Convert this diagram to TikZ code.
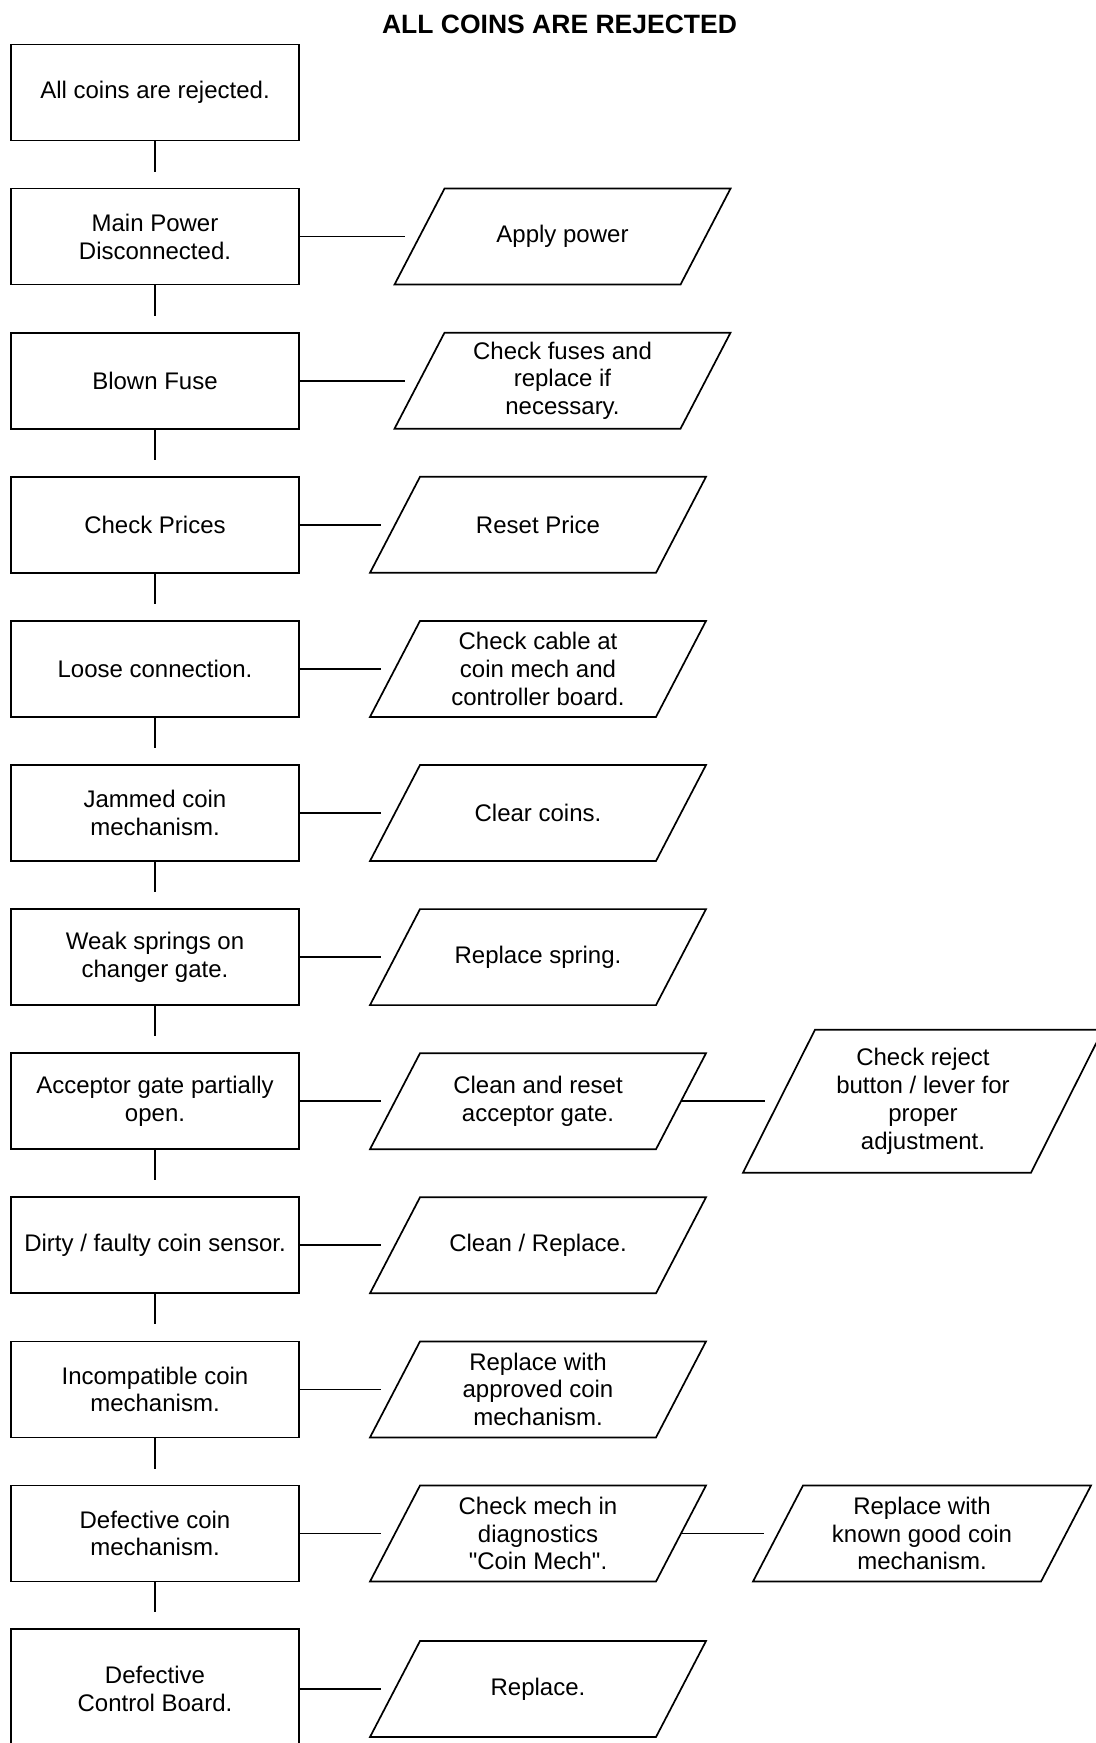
\documentclass[tikz,border=0pt]{standalone}
\usepackage{fontspec}
\setmainfont[Ligatures=TeXOff]{Liberation Sans}
\begin{document}
\begin{tikzpicture}[x=0.5pt,y=-0.5pt,line width=0.85pt,
  txt/.style={inner sep=0pt,outer sep=0pt,align=center,font=\fontsize{12}{13.9}\selectfont},
  box/.style={txt,draw,minimum width=144pt,minimum height=48pt},
  para/.style={txt,minimum width=143pt,minimum height=48pt},
  link/.style={shorten >=7.25pt},
  vlink/.style={shorten >=8.5pt}]
\useasboundingbox (0,0) rectangle (1096,1743);
\node[font=\bfseries\fontsize{13.25}{15}\selectfont,inner sep=0pt] (title) at (559.5,24) {ALL COINS ARE REJECTED};
% boxes
\node[box] (b1) at (155,92.5) {All coins are rejected.};
\node[box] (b2) at (155,236.6) {Main Power\\Disconnected.};
\node[box] (b3) at (155,380.7) {Blown Fuse};
\node[box] (b4) at (155,524.8) {Check Prices};
\node[box] (b5) at (155,668.9) {Loose connection.};
\node[box] (b6) at (155,813.0) {Jammed coin\\mechanism.};
\node[box] (b7) at (155,957.1) {Weak springs on\\changer gate.};
\node[box] (b8) at (155,1101.2) {Acceptor gate partially\\open.};
\node[box] (b9) at (155,1245.3) {Dirty / faulty coin sensor.};
\node[box] (b10) at (155,1389.4) {Incompatible coin\\mechanism.};
\node[box] (b11) at (155,1533.5) {Defective coin\\mechanism.};
\node[txt,minimum width=144pt,minimum height=60pt] (b12) at (155,1689) {Defective\\Control Board.};
\draw (b12.south west) -- (b12.north west) -- (b12.north east) -- (b12.south east);
% parallelograms
\node[para] (p2) at (562.5,236.6) {Apply power};
\node[para] (p3) at (562.5,380.7) {Check fuses and\\replace if\\necessary.};
\node[para] (p4) at (538,524.8) {Reset Price};
\node[para] (p5) at (538,668.9) {Check cable at\\coin mech and\\controller board.};
\node[para] (p6) at (538,813.0) {Clear coins.};
\node[para] (p7) at (538,957.1) {Replace spring.};
\node[para] (p8) at (538,1101.2) {Clean and reset\\acceptor gate.};
\node[para,minimum width=144pt,minimum height=71.5pt] (p8b) at (923,1101.2) {Check reject\\button / lever for\\proper\\adjustment.};
\node[para] (p9) at (538,1245.3) {Clean / Replace.};
\node[para] (p10) at (538,1389.4) {Replace with\\approved coin\\mechanism.};
\node[para] (p11) at (538,1533.5) {Check mech in\\diagnostics\\"Coin Mech".};
\node[para,minimum width=144pt] (p11b) at (922,1533.5) {Replace with\\known good coin\\mechanism.};
\node[para] (p12) at (538,1689) {Replace.};
\foreach \n/\s in {p2/12.5,p3/12.5,p4/12.5,p5/12.5,p6/12.5,p7/12.5,p8/12.5,p8b/18,p9/12.5,p10/12.5,p11/12.5,p11b/12.5,p12/12.5}
  \draw ([xshift=-\s pt]\n.south west) -- ([xshift=\s pt]\n.north west) -- ([xshift=\s pt]\n.north east) -- ([xshift=-\s pt]\n.south east) -- cycle;
% vertical connectors
\foreach \a/\b in {b1/b2,b2/b3,b3/b4,b4/b5,b5/b6,b6/b7,b7/b8,b8/b9,b9/b10,b10/b11,b11/b12}
  \draw[vlink] (\a.south) -- (\b.north);
% horizontal connectors
\foreach \a/\b in {b2/p2,b3/p3,b4/p4,b5/p5,b6/p6,b7/p7,b8/p8,b9/p9,b10/p10,b11/p11,b12/p12,p8/p8b,p11/p11b}
  \draw[link] (\a.east) -- (\b.west);
\end{tikzpicture}
\end{document}
